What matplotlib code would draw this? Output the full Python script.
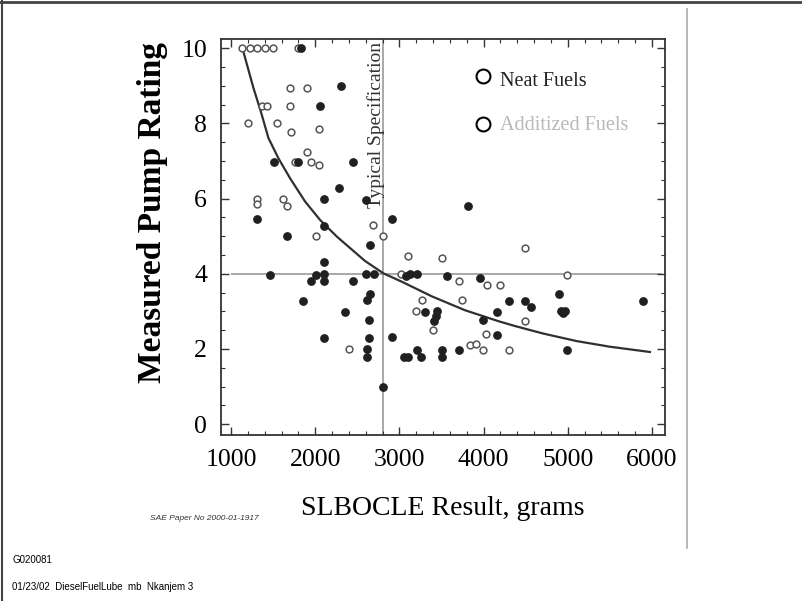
import matplotlib
matplotlib.use("Agg")
import matplotlib.pyplot as plt
from matplotlib.ticker import MultipleLocator

# values
neat_x = [1830, 2300, 2050, 1511, 1790, 2453, 2283, 1313, 2105, 2600, 2105, 1661, 2908, 3811,
          2105, 1463, 1946, 2010, 2105, 2105, 2453, 2600, 2700, 2651, 1851, 2354, 2651, 2611,
          2640, 2640, 2611, 2611, 2105, 2800, 2908, 3075, 3126, 3206, 3560, 3957, 4302, 3304,
          3440, 3430, 3415, 3997, 4155, 4155, 3059, 3098, 3206, 3257, 3509, 3509, 3708, 4492,
          4559, 4897, 4920, 4970, 4945, 4994, 5889]
neat_y = [10.0, 9.0, 8.45, 6.96, 6.96, 6.96, 6.28, 5.45, 5.98, 5.97, 5.26, 5.0, 5.45, 5.8,
          4.3, 3.96, 3.8, 3.96, 4.0, 3.8, 3.8, 4.0, 4.0, 4.76, 3.28, 2.99, 3.45, 3.3,
          2.77, 2.3, 2.0, 1.78, 2.3, 1.0, 2.32, 3.95, 4.0, 4.0, 3.93, 3.88, 3.28, 2.99,
          3.0, 2.87, 2.74, 2.77, 2.99, 2.37, 1.79, 1.79, 1.97, 1.79, 1.97, 1.79, 1.97, 3.28,
          3.12, 3.47, 3.0, 3.0, 2.95, 1.97, 3.28]

add_x = [1130, 1220, 1310, 1400, 1500, 1790, 1700, 1906, 1364, 1424, 1700, 1206, 1550, 1709,
         2045, 1906, 1760, 1946, 2045, 1313, 1313, 1611, 1661, 2010, 2403, 2800, 2680, 3098,
         3509, 3020, 3708, 4036, 4195, 3265, 3748, 3197, 3404, 4024, 3838, 3906, 3997, 4302,
         4492, 4994, 4492]
add_y = [10.0, 10.0, 10.0, 10.0, 10.0, 10.0, 8.94, 8.94, 8.45, 8.45, 8.45, 8.0, 8.0, 7.77,
         7.86, 7.25, 6.96, 6.96, 6.9, 6.0, 5.85, 5.99, 5.79, 5.0, 1.99, 5.0, 5.3, 4.48,
         4.43, 4.0, 3.8, 3.7, 3.7, 3.3, 3.3, 3.0, 2.5, 2.41, 2.1, 2.12, 1.97, 1.97,
         4.69, 3.96, 2.74]

# fitted curve, traced
fit_x = [1150, 1265, 1352, 1443, 1562, 1700, 1879, 2057, 2255, 2591, 2810, 3027, 3384,
         3779, 4175, 4373, 4709, 5106, 5501, 5976]
fit_y = [9.87, 8.94, 8.32, 7.61, 7.07, 6.54, 5.92, 5.43, 4.99, 4.34, 4.01, 3.79, 3.40,
         3.03, 2.74, 2.61, 2.41, 2.21, 2.06, 1.92]

spec_x = 2800
spec_rating = 4

serif = "Liberation Serif"

fig = plt.figure(figsize=(8.02, 6.01), dpi=100)
ax = fig.add_axes([0.2756, 0.276, 0.5536, 0.659])

ax.axvline(spec_x, color="#9a9a9a", lw=1.2, zorder=1)
ax.hlines(spec_rating, 1000, 6120, color="#9a9a9a", lw=1.2, zorder=1)
ax.plot(fit_x, fit_y, color="#303030", lw=1.6, zorder=2)
ax.scatter(add_x, add_y, s=24, facecolors="white", edgecolors="#555555", linewidths=1.1, zorder=3)
ax.scatter(neat_x, neat_y, s=28, color="#202020", zorder=4)

ax.text(2722, 10.15, "Typical Specification", rotation=90, ha="center", va="top",
        family=serif, fontsize=14, color="#333333")

# legend drawn by hand like the slide
ax.plot([3990], [9.27], "o", mfc="white", mec="black", mew=1.5, ms=10)
ax.plot([3990], [7.98], "o", mfc="white", mec="black", mew=1.5, ms=10)
ax.text(4200, 9.1, "Neat Fuels", family=serif, fontsize=14.5, color="#222222", va="center")
ax.text(4200, 7.94, "Additized Fuels", family=serif, fontsize=14.5, color="#b8b8b8", va="center")

ax.set_xlim(880, 6155)
ax.set_ylim(-0.29, 10.24)
ax.xaxis.set_major_locator(MultipleLocator(1000))
ax.xaxis.set_minor_locator(MultipleLocator(200))
ax.yaxis.set_major_locator(MultipleLocator(2))
ax.yaxis.set_minor_locator(MultipleLocator(0.5))
ax.tick_params(which="both", direction="in", top=True, right=True, color="#333333")
ax.tick_params(which="major", length=6, width=1.0, pad=10, labelsize=18.5)
ax.tick_params(which="minor", length=3, width=0.8)
for lab in ax.get_xticklabels() + ax.get_yticklabels():
    lab.set_family(serif)
for s in ax.spines.values():
    s.set_color("#333333")
    s.set_linewidth(1.3)

ax.set_ylabel("Measured Pump Rating", family=serif, fontsize=24, fontweight="bold")
ax.yaxis.set_label_coords(-0.12, 0.563)
ax.set_xlabel("SLBOCLE Result, grams", family=serif, fontsize=20, labelpad=18)

fig.text(0.187, 0.138, "SAE Paper No 2000-01-1917", fontsize=6, style="italic",
         family="Liberation Sans", color="#333333", va="center")
fig.text(0.015, 0.068, "G020081", fontsize=7, family="Liberation Sans", va="center")
fig.text(0.015, 0.023, "01/23/02  DieselFuelLube  mb  Nkanjem 3", fontsize=7,
         family="Liberation Sans", va="center")

# slide frame lines
fig.add_artist(plt.Line2D([0, 1], [0.997, 0.997], color="#444444", lw=2, transform=fig.transFigure))
fig.add_artist(plt.Line2D([0.002, 0.002], [0, 1], color="#444444", lw=1.5, transform=fig.transFigure))
fig.add_artist(plt.Line2D([0.856, 0.856], [0.088, 0.985], color="#aaaaaa", lw=1.2, transform=fig.transFigure))

fig.savefig("out.png", dpi=100)
